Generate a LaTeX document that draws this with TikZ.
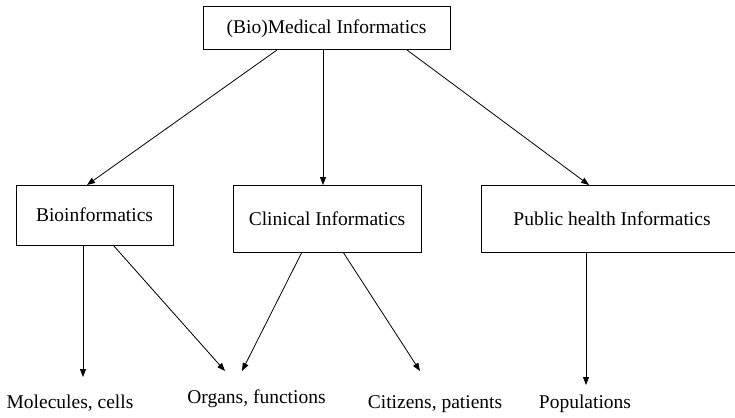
\documentclass[tikz,border=0pt]{standalone}
\usepackage{fontspec}
\setmainfont{Liberation Serif}
\usetikzlibrary{arrows.meta}
\begin{document}
\begin{tikzpicture}[x=1pt,y=-1pt,
  box/.style={draw,line width=1pt,inner sep=0pt,font=\fontsize{19.5}{23}\selectfont},
  lbl/.style={inner sep=0pt,anchor=base,font=\fontsize{19.5}{23}\selectfont},
  arr/.style={-{Triangle[length=8pt,width=6pt]},line width=0.8pt}]
\useasboundingbox (0,0) rectangle (735,417);
\node[box,minimum width=247pt,minimum height=43pt] (top) at (326.5,28.5) {(Bio)Medical Informatics};
\node[box,minimum width=157pt,minimum height=60pt] (bio) at (94.5,215) {Bioinformatics};
\node[box,minimum width=188pt,minimum height=67pt] (cli) at (327,218.5) {Clinical Informatics};
\node[box,minimum width=262pt,minimum height=67pt] (pub) at (612,218.5) {Public health Informatics};
\node[lbl] (mol) at (70,408) {Molecules, cells};
\node[lbl] (org) at (256.5,403) {Organs, functions};
\node[lbl] (cit) at (435,408) {Citizens, patients};
\node[lbl] (popl) at (585,408) {Populations};
\coordinate (t1) at (277,50);
\coordinate (t2) at (323,50);
\coordinate (t3) at (407,50);
\coordinate (b1) at (87,185);
\coordinate (c1) at (323,185);
\coordinate (p1) at (589,185);
\draw[arr] (t1) -- (b1);
\draw[arr] (t2) -- (c1);
\draw[arr] (t3) -- (p1);
\coordinate (bm) at (83,245);
\coordinate (bo) at (113,245);
\coordinate (cl) at (302,252);
\coordinate (cr) at (343,252);
\coordinate (pb) at (586,252);
\coordinate (molt) at (83,377);
\coordinate (org1) at (225,371);
\coordinate (org2) at (242,371);
\coordinate (citt) at (420,371);
\coordinate (popt) at (586,385);
\draw[arr] (bm) -- (molt);
\draw[arr] (bo) -- (org1);
\draw[arr] (cl) -- (org2);
\draw[arr] (cr) -- (citt);
\draw[arr] (pb) -- (popt);
\end{tikzpicture}
\end{document}
